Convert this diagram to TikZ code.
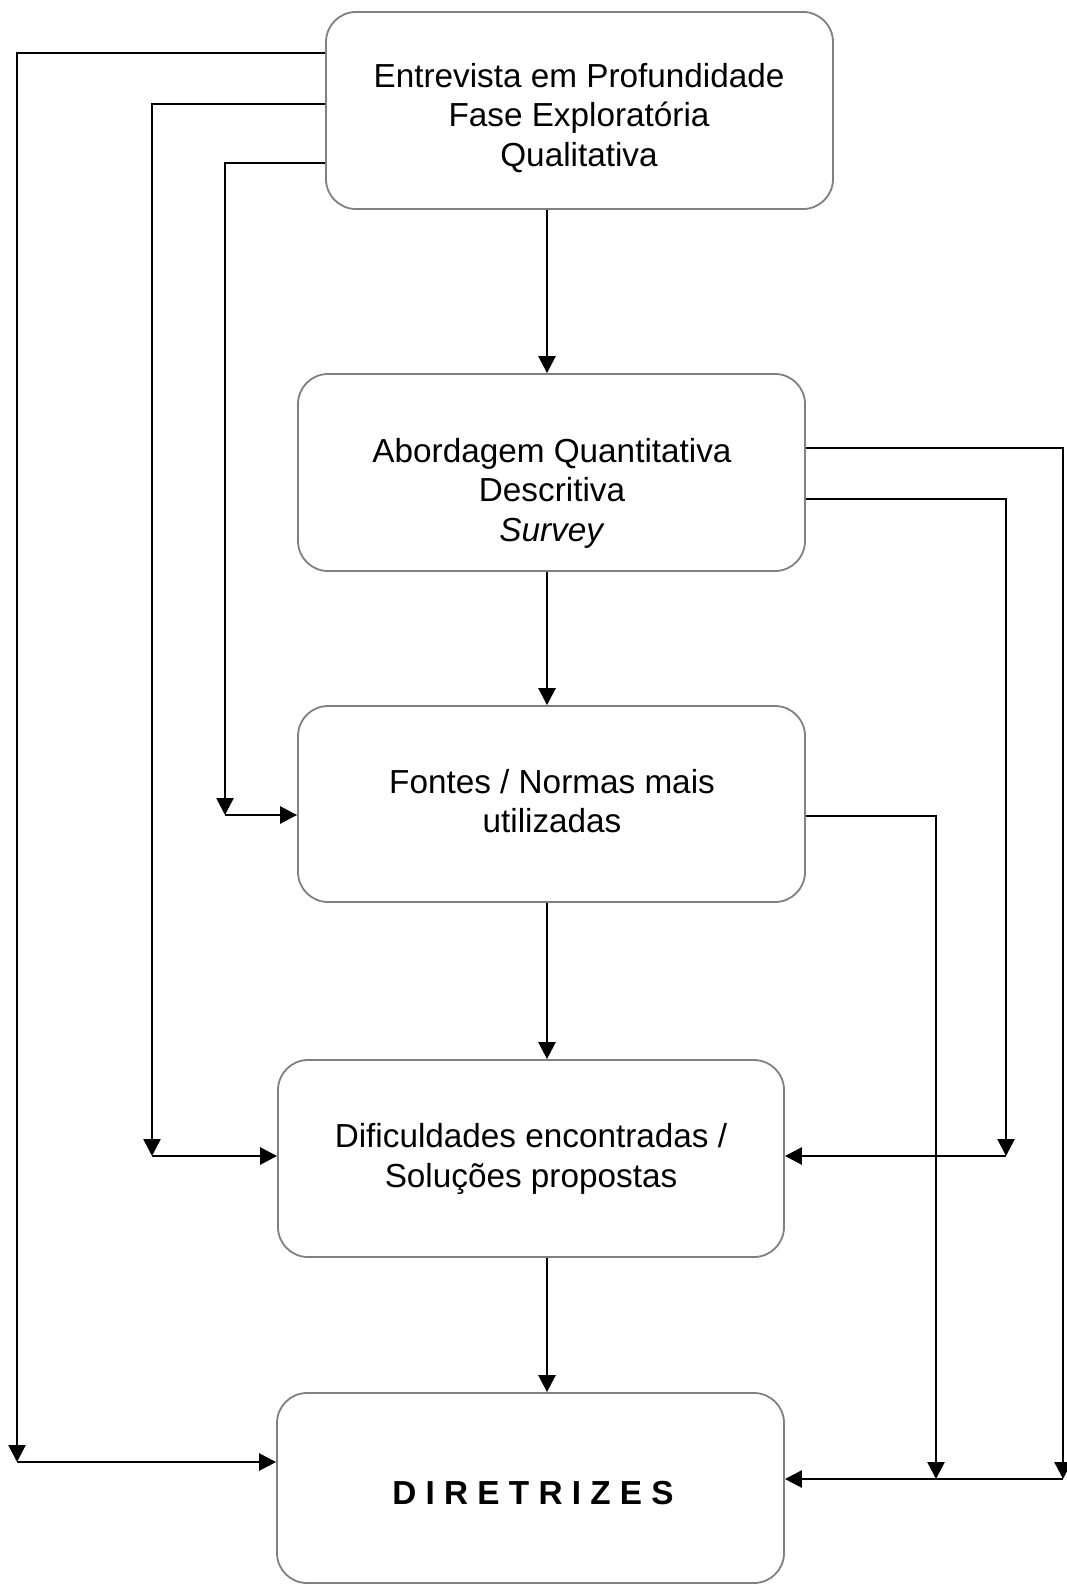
\documentclass[tikz,border=0pt]{standalone}
\usepackage{fontspec}
\setmainfont{Liberation Sans}
\usetikzlibrary{arrows.meta}
\begin{document}
\begin{tikzpicture}[x=1pt,y=-1pt,
  stagebox/.style={draw=black!50,line width=1.8pt,rectangle,rounded corners=30pt,inner sep=0pt},
  stagetext/.style={align=center,inner sep=0pt,font=\fontsize{33.3}{39.4}\selectfont},
  flow/.style={line width=2.6pt,-{Triangle[length=17pt,width=17pt]}},
  link/.style={line width=2.6pt}]
\useasboundingbox (0,0) rectangle (1066,1584);

% stage boxes
\node[stagebox,minimum width=507pt,minimum height=197pt] (b1) at (579.5,110.5) {};
\node[stagebox,minimum width=507pt,minimum height=197pt] (b2) at (551.5,472.5) {};
\node[stagebox,minimum width=507pt,minimum height=196pt] (b3) at (551.5,804) {};
\node[stagebox,minimum width=506pt,minimum height=197pt] (b4) at (531,1158.5) {};
\node[stagebox,minimum width=507pt,minimum height=190pt] (b5) at (530.5,1488) {};

% stage labels
\node[stagetext] (t1) at (579,118) {Entrevista em Profundidade\\Fase Exploratória\\Qualitativa};
\node[stagetext] (t2) at (552,493) {Abordagem Quantitativa\\Descritiva\\\textit{Survey}};
\node[stagetext] (t3) at (552,801) {Fontes / Normas mais\\utilizadas};
\node[stagetext] (t4) at (531,1159) {Dificuldades encontradas /\\Soluções propostas};
\node[stagetext,font=\bfseries\fontsize{33.3}{39.4}\selectfont] (t5) at (533,1493) {D I R E T R I Z E S};

% main vertical sequence
\coordinate (ax) at (547,0);
\draw[flow] (b1.south -| ax) -- (b2.north -| ax);
\draw[flow] (b2.south -| ax) -- (b3.north -| ax);
\draw[flow] (b3.south -| ax) -- (b4.north -| ax);
\draw[flow] (b4.south -| ax) -- (b5.north -| ax);

% left-hand feedforward loops
\coordinate (l1a) at (326,53);   \coordinate (l1c) at (17,1462);
\coordinate (l2a) at (326,104);  \coordinate (l2c) at (152,1156);
\coordinate (l3a) at (326,163);  \coordinate (l3c) at (225,815);
\draw[flow] (b1.west |- l1a) -| (l1c);
\draw[flow] (l1c) -- (b5.west |- l1c);
\draw[flow] (b1.west |- l2a) -| (l2c);
\draw[flow] (l2c) -- (b4.west |- l2c);
\draw[flow] (b1.west |- l3a) -| (l3c);
\draw[flow] (l3c) -- (b3.west |- l3c);

% right-hand feedforward loops
\coordinate (r1a) at (805,448);  \coordinate (r1c) at (1063,1479);
\coordinate (r2a) at (805,499);  \coordinate (r2c) at (1006,1156);
\coordinate (r3a) at (805,816);  \coordinate (r3c) at (936,1479);
\draw[flow] (b2.east |- r1a) -| (r1c);
\draw[flow] (b2.east |- r2a) -| (r2c);
\draw[flow] (r2c) -- (b4.east |- r2c);
\draw[flow] (b3.east |- r3a) -| (r3c);
\draw[flow] (r1c) -- (b5.east |- r1c);
\end{tikzpicture}
\end{document}
